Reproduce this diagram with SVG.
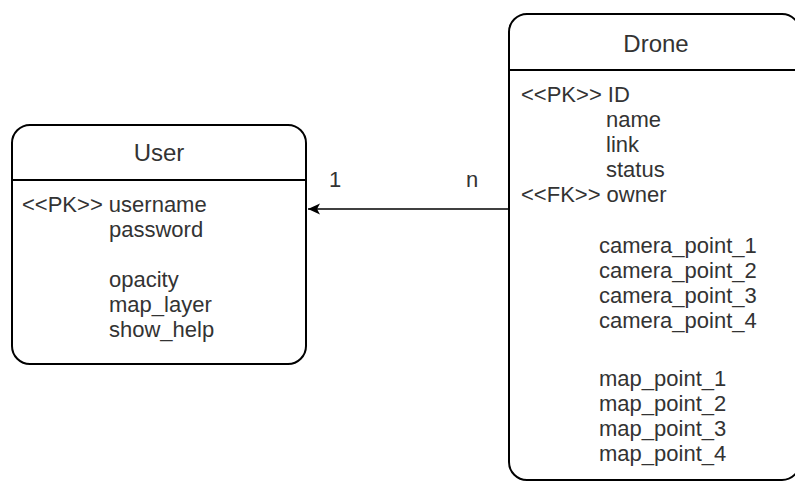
<svg xmlns="http://www.w3.org/2000/svg" width="795" height="486" viewBox="0 0 795 486">
<style>
.box{fill:#ffffff;stroke:#000000;stroke-width:2}
.sep{stroke:#000000;stroke-width:2}
.title{font-family:"Liberation Sans",Arial,sans-serif;font-size:24px;fill:#333333;text-anchor:middle}
.t{font-family:"Liberation Sans",Arial,sans-serif;font-size:22px;fill:#333333}
.edge{stroke:#000000;stroke-width:1.5;fill:none}
</style>
<defs>
<marker id="arr" markerWidth="14" markerHeight="14" refX="13" refY="7" orient="auto" markerUnits="userSpaceOnUse">
<path d="M1,1.5 L13,7 L1,12.5 L4,7 Z" fill="#000000"/>
</marker>
</defs>
<rect width="795" height="486" fill="#ffffff"/>
<g id="connectors">
<line class="edge" x1="508" y1="209" x2="308" y2="209" marker-end="url(#arr)"/>
<text class="t" x="329" y="187">1</text>
<text class="t" x="466" y="187">n</text>
</g>
<g id="user">
<rect class="box" x="12" y="125" width="294" height="239" rx="18" ry="18"/>
<line class="sep" x1="12" y1="180" x2="306" y2="180"/>
<text class="title" x="159" y="161">User</text>
<text class="t" x="22" y="212">&lt;&lt;PK&gt;&gt; username</text>
<text class="t" x="109" y="237">password</text>
<text class="t" x="109" y="287">opacity</text>
<text class="t" x="109" y="312">map_layer</text>
<text class="t" x="109" y="337">show_help</text>
</g>
<g id="drone">
<rect class="box" x="509" y="14" width="291" height="466" rx="18" ry="18"/>
<line class="sep" x1="509" y1="70" x2="800" y2="70"/>
<text class="title" x="656" y="52">Drone</text>
<text class="t" x="521" y="102">&lt;&lt;PK&gt;&gt; ID</text>
<text class="t" x="606" y="127">name</text>
<text class="t" x="606" y="152">link</text>
<text class="t" x="606" y="177">status</text>
<text class="t" x="521" y="202">&lt;&lt;FK&gt;&gt; owner</text>
<text class="t" x="599" y="253">camera_point_1</text>
<text class="t" x="599" y="278">camera_point_2</text>
<text class="t" x="599" y="303">camera_point_3</text>
<text class="t" x="599" y="328">camera_point_4</text>
<text class="t" x="599" y="386">map_point_1</text>
<text class="t" x="599" y="411">map_point_2</text>
<text class="t" x="599" y="436">map_point_3</text>
<text class="t" x="599" y="461">map_point_4</text>
</g>
</svg>
